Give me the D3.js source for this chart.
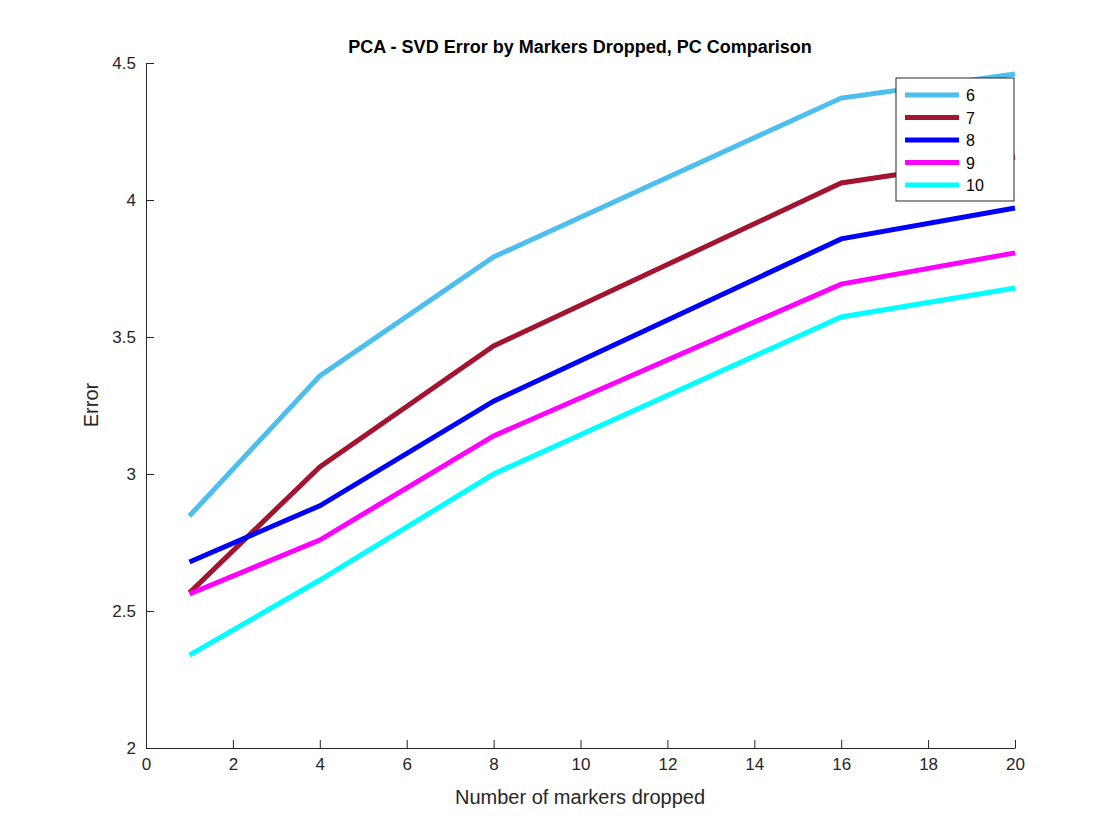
<!DOCTYPE html>
<html><head><meta charset="utf-8">
<script src="https://cdn.jsdelivr.net/npm/d3@7"></script>
<style>body{margin:0;background:#fff}</style>
</head><body>
<script>
var xs = [1, 4, 8, 16, 20];
var pcNames = ["6", "7", "8", "9", "10"];
var pc6 = [2.847, 3.358, 3.792, 4.372, 4.460];
var pc7 = [2.566, 3.026, 3.467, 4.062, 4.157];
var pc8 = [2.679, 2.884, 3.266, 3.858, 3.971];
var pc9 = [2.562, 2.759, 3.139, 3.693, 3.807];
var pc10 = [2.339, 2.613, 3.000, 3.573, 3.679];
var colors = ["#4DBEEE", "#A2142F", "#0000FF", "#FF00FF", "#00FFFF"];
var xTicks = [0, 2, 4, 6, 8, 10, 12, 14, 16, 18, 20];
var yTicks = [2, 2.5, 3, 3.5, 4, 4.5];

var series = [pc6, pc7, pc8, pc9, pc10];
var W = 1120, H = 840;
var svg = d3.select("body").append("svg").attr("width", W).attr("height", H)
    .style("font-family", "Helvetica, Arial, 'Liberation Sans', sans-serif");

var x = d3.scaleLinear().domain([0, 20]).range([146, 1015]);
var y = d3.scaleLinear().domain([2, 4.5]).range([748, 63]);

var xAxis = svg.append("g").attr("transform", "translate(0,748)")
    .call(d3.axisBottom(x).tickValues(xTicks).tickSizeInner(-8).tickSizeOuter(0).tickPadding(10));
var yAxis = svg.append("g").attr("transform", "translate(146,0)")
    .call(d3.axisLeft(y).tickValues(yTicks).tickFormat(d3.format("")).tickSizeInner(-8).tickSizeOuter(0).tickPadding(10));
[xAxis, yAxis].forEach(function (a) {
    a.selectAll("path,line").attr("stroke", "#262626");
    a.selectAll("text").attr("font-size", 17).attr("fill", "#262626");
});

var line = d3.line().x(function (d, i) { return x(xs[i]); }).y(function (d) { return y(d); });
svg.selectAll(".s").data(series).enter().append("path")
    .attr("d", line).attr("fill", "none")
    .attr("stroke", function (d, i) { return colors[i]; })
    .attr("stroke-width", 5);

svg.append("text").attr("x", 580).attr("y", 53).attr("text-anchor", "middle")
    .attr("font-size", 18).attr("font-weight", "bold").attr("fill", "#000")
    .text("PCA - SVD Error by Markers Dropped, PC Comparison");
svg.append("text").attr("x", 580).attr("y", 804).attr("text-anchor", "middle")
    .attr("font-size", 20).attr("fill", "#262626").text("Number of markers dropped");
svg.append("text").attr("transform", "translate(98,405) rotate(-90)").attr("text-anchor", "middle")
    .attr("font-size", 20).attr("fill", "#262626").text("Error");

var lg = svg.append("g").attr("transform", "translate(896,78)");
lg.append("rect").attr("width", 118).attr("height", 123).attr("fill", "#fff").attr("stroke", "#262626");
pcNames.forEach(function (n, i) {
    var yy = 17 + i * 22.5;
    lg.append("line").attr("x1", 9).attr("x2", 63).attr("y1", yy).attr("y2", yy)
        .attr("stroke", colors[i]).attr("stroke-width", 5);
    lg.append("text").attr("x", 70).attr("y", yy + 6).attr("font-size", 16).attr("fill", "#000").text(n);
});
</script>
</body></html>
